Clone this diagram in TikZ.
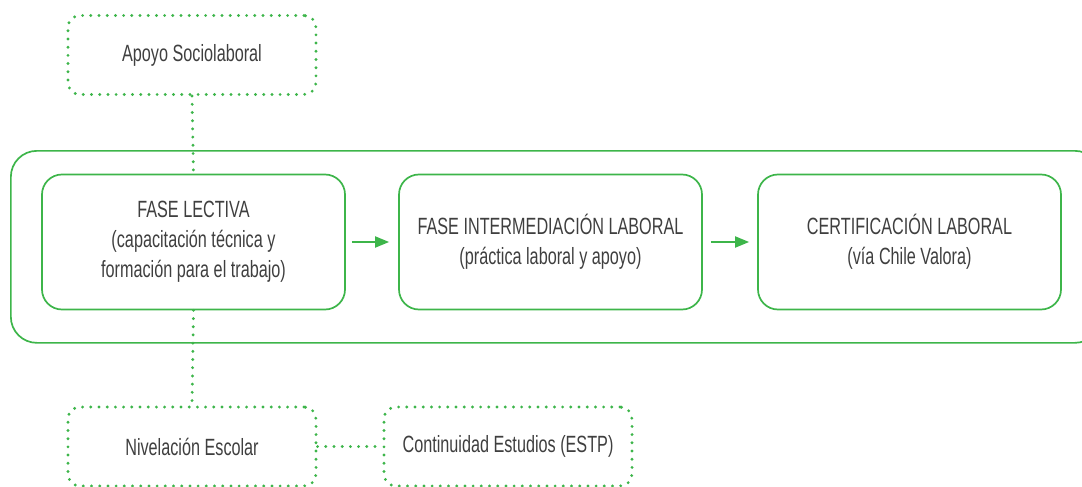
\documentclass[tikz,border=0pt]{standalone}
\usepackage{fontspec}
\setmainfont[FakeStretch=0.69]{Liberation Sans}
\usetikzlibrary{arrows.meta}
\definecolor{grn}{HTML}{3DB54A}
\definecolor{txt}{HTML}{3F3F3F}
\tikzset{
  phase/.style={draw=grn, line width=1.7pt, rounded corners=20pt, minimum width=303pt, minimum height=135pt, align=center, text=txt, font=\fontsize{23.5}{30}\selectfont},
  support/.style={draw=grn, line width=3.2pt, line cap=round, dash pattern=on 0pt off 8.2pt, rounded corners=12pt, minimum width=248pt, minimum height=79pt, align=center, text=txt, font=\fontsize{23.5}{30}\selectfont},
  dotlink/.style={draw=grn, line width=3.2pt, line cap=round, dash pattern=on 0pt off 8.2pt},
  flow/.style={draw=grn, line width=1.8pt, -{Triangle[length=14pt,width=11pt]}},
}
\begin{document}
\begin{tikzpicture}[x=1pt,y=-1pt]
\useasboundingbox (0,0) rectangle (1082,487);
\node[draw=grn, line width=1.7pt, rounded corners=26pt, minimum width=1090pt, minimum height=192pt, anchor=north west] (outer) at (10,150) {};
\node[support] (apoyo) at (192,55) {Apoyo Sociolaboral};
\node[phase] (lectiva) at (193.5,242) {FASE LECTIVA\\(capacitación técnica y\\formación para el trabajo)};
\node[phase] (inter) at (550.5,242) {FASE INTERMEDIACIÓN LABORAL\\(práctica laboral y apoyo)};
\node[phase] (cert) at (909.5,242) {CERTIFICACIÓN LABORAL\\(vía Chile Valora)};
\node[support] (nivel) at (192,446.5) {Nivelación Escolar};
\node[support] (cont) at (508,446.5) {Continuidad Estudios (ESTP)};
\draw[flow] ([xshift=6pt]lectiva.east) -- ([xshift=-9pt]inter.west);
\draw[flow] ([xshift=8pt]inter.east) -- ([xshift=-8pt]cert.west);
\draw[dotlink] (apoyo.south) -- (lectiva.north);
\draw[dotlink] (lectiva.south) -- (nivel.north);
\draw[dotlink] (nivel.east) -- (cont.west);
\end{tikzpicture}
\end{document}
